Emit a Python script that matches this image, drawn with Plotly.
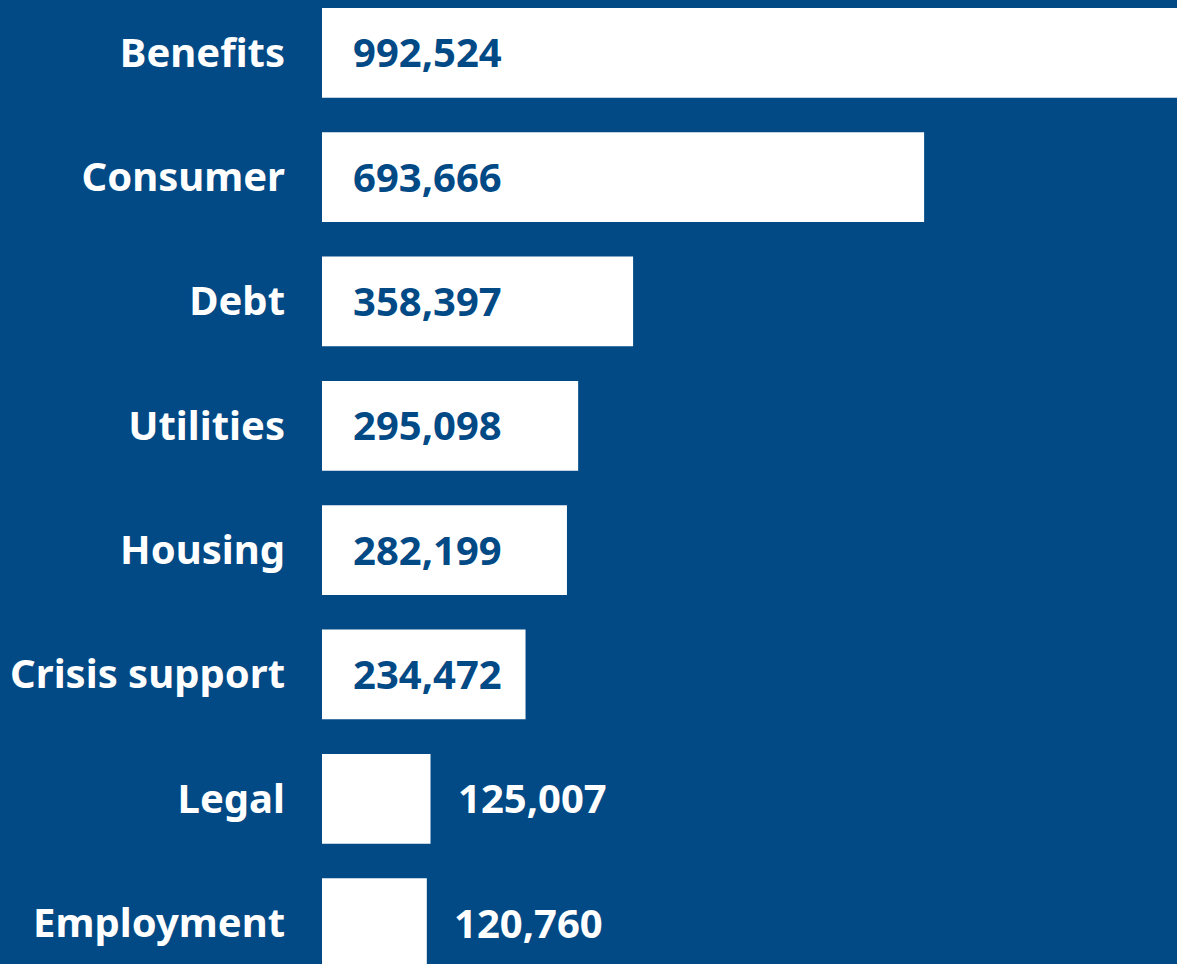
import plotly.graph_objects as go

# Advice topics and number of people helped
categories = ["Benefits", "Consumer", "Debt", "Utilities", "Housing",
              "Crisis support", "Legal", "Employment"]
values = [992524, 693666, 358397, 295098, 282199, 234472, 125007, 120760]

BG = "#024A86"
BAR = "#FFFFFF"
FONT = "Noto Sans"
LABEL_SIZE = 40
VALUE_SIZE = 40

# values below this are labelled to the right of the bar
INSIDE_MIN = 200000

fig = go.Figure(
    go.Bar(
        x=values,
        y=categories,
        orientation="h",
        marker=dict(color=BAR, line=dict(width=0)),
        hoverinfo="skip",
    )
)

annotations = []
for cat, val in zip(categories, values):
    label = f"{val:,}"
    if val >= INSIDE_MIN:
        annotations.append(dict(
            x=0, y=cat, xref="x", yref="y", text=label, showarrow=False,
            xanchor="left", yanchor="middle", xshift=29, yshift=1,
            font=dict(family=FONT, size=VALUE_SIZE, color=BG, weight="bold"),
        ))
    else:
        annotations.append(dict(
            x=val, y=cat, xref="x", yref="y", text=label, showarrow=False,
            xanchor="left", yanchor="middle", xshift=25, yshift=1,
            font=dict(family=FONT, size=VALUE_SIZE, color=BAR, weight="bold"),
        ))

fig.update_layout(
    width=1177,
    height=964,
    margin=dict(l=322, r=0, t=0, b=0, pad=0),
    paper_bgcolor=BG,
    plot_bgcolor=BG,
    showlegend=False,
    bargap=0.278,
    annotations=annotations,
    xaxis=dict(
        range=[0, 985000],
        visible=False,
        fixedrange=True,
    ),
    yaxis=dict(
        categoryorder="array",
        categoryarray=categories,
        range=[7.329, -0.425],
        showgrid=False,
        zeroline=False,
        showline=False,
        ticks="",
        ticklabelstandoff=36,
        tickfont=dict(family=FONT, size=LABEL_SIZE, color="#FFFFFF", weight="bold"),
        fixedrange=True,
    ),
)

fig.write_html("out.html", config={"displayModeBar": False})
